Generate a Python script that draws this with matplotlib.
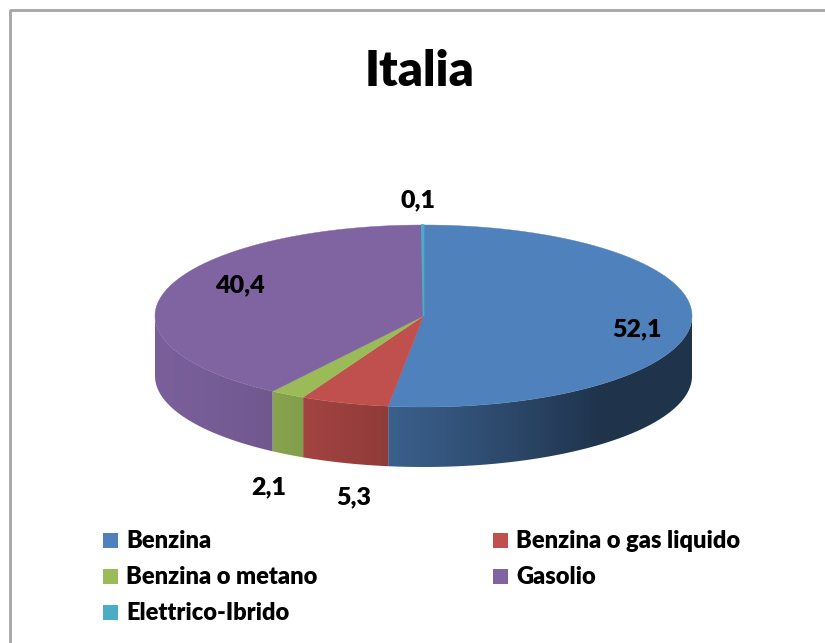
import numpy as np
import matplotlib.pyplot as plt
import matplotlib.colors as mcolors
from matplotlib.patches import Polygon, Rectangle

# data
categories = ["Benzina", "Benzina o gas liquido", "Benzina o metano", "Gasolio", "Elettrico-Ibrido"]
values = [52.1, 5.3, 2.1, 40.4, 0.1]
value_labels = ["52,1", "5,3", "2,1", "40,4", "0,1"]
colors = ["#4F81BD", "#C0504D", "#9BBB59", "#8064A2", "#4BACC6"]

plt.rcParams['font.family'] = ['Lato', 'DejaVu Sans']

fig = plt.figure(figsize=(8.25, 6.43), dpi=100)
ax = fig.add_axes([0, 0, 1, 1])
ax.set_xlim(0, 825)
ax.set_ylim(643, 0)
ax.axis('off')

# chart area border
ax.plot([10, 10, 825], [643, 10, 10], color="#a6a6a6", lw=2, solid_capstyle='butt')

# pie geometry (pixels)
cx, cy, a, b, depth = 423.5, 316, 268.5, 91, 60

fracs = np.array(values) / sum(values)
edges = np.concatenate([[0], np.cumsum(fracs)]) * 2 * np.pi   # clockwise from 12 o'clock


def top_pt(t):
    return cx + a * np.sin(t), cy - b * np.cos(t)


def shade(x):
    t = np.clip((x - (cx - a)) / 445, 0, 1)
    return 0.95 - 0.55 * t ** 1.5


# visible side walls, gradient left -> right, clipped to each wedge's wall
gx = np.linspace(cx - a, cx + a, 600)
for i in range(len(values)):
    lo, hi = max(edges[i], np.pi / 2), min(edges[i + 1], 3 * np.pi / 2)
    if hi <= lo:
        continue
    ts = np.linspace(lo, hi, 200)
    xs, ys = top_pt(ts)
    wall = list(zip(xs, ys)) + list(zip(xs[::-1], ys[::-1] + depth))
    patch = Polygon(wall, closed=True, fc='none', ec='none')
    ax.add_patch(patch)
    base = np.array(mcolors.to_rgb(colors[i]))
    img = (base[None, :] * shade(gx)[:, None])[None, :, :]
    im = ax.imshow(img, extent=(cx - a, cx + a, cy + b + depth + 2, cy - 2),
                   aspect='auto', interpolation='bilinear')
    im.set_clip_path(patch)

# top face
for i in range(len(values)):
    ts = np.linspace(edges[i], edges[i + 1], max(3, int(np.degrees(edges[i + 1] - edges[i])) * 2 + 3))
    xs, ys = top_pt(ts)
    pts = [(cx, cy)] + list(zip(xs, ys))
    lw = 1.2 if values[i] < 1 else 0.3
    ax.add_patch(Polygon(pts, closed=True, fc=colors[i], ec=colors[i], lw=lw))

ax.set_xlim(0, 825)
ax.set_ylim(643, 0)

# value labels
label_xy = [(637, 329), (354, 497), (269, 487), (240, 285), (418, 200)]
for txt, (x, y) in zip(value_labels, label_xy):
    ax.text(x, y, txt, ha='center', va='center', fontsize=18, fontweight='heavy', color='black')

ax.text(420, 72, "Italia", ha='center', va='center', fontsize=35, fontweight='heavy', color='black')

# legend, two columns filled row by row
col_x = [103, 493]
row_y = [541, 577, 613]
for i, (name, col) in enumerate(zip(categories, colors)):
    x, y = col_x[i % 2], row_y[i // 2]
    ax.add_patch(Rectangle((x, y - 8), 15, 15, fc=col, ec='none'))
    ax.text(x + 23, y, name, ha='left', va='center', fontsize=17, fontweight='heavy', color='black')

fig.savefig("out.png", dpi=100)
